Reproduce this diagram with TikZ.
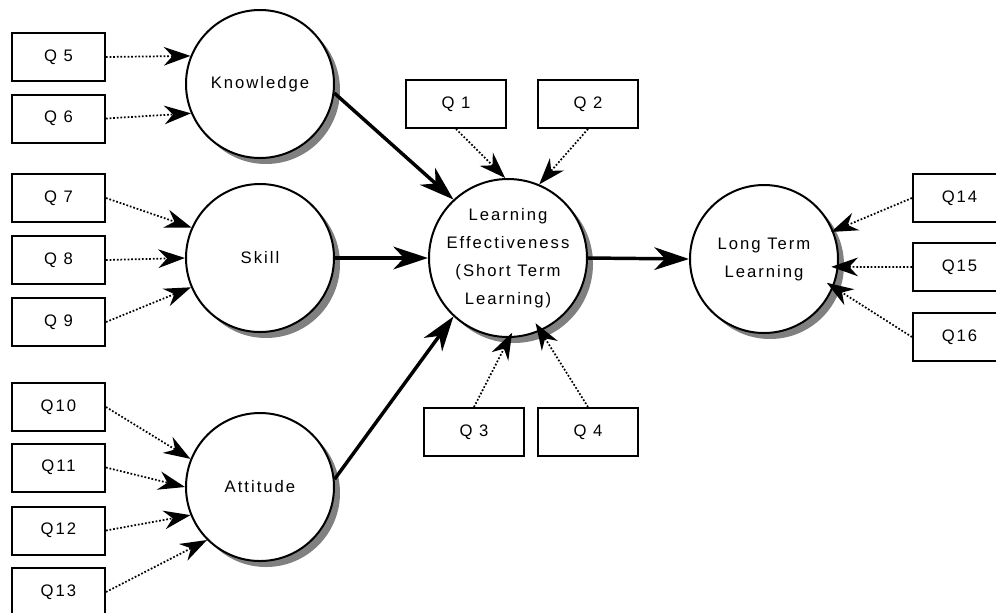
\documentclass[tikz,border=0pt]{standalone}
\usepackage{fontspec}
\setmainfont{Liberation Sans}[LetterSpace=12]
\usetikzlibrary{arrows.meta,shadows}

\tikzset{
  item/.style={draw, line width=1.5pt, minimum width=69.75pt, minimum height=36pt, inner sep=0pt},
  wide item/.style={item, minimum width=75pt},
  factor/.style={circle, draw, line width=1.5pt, fill=white, minimum size=111pt, inner sep=0pt, align=center,
    drop shadow={shadow xshift=4.5pt, shadow yshift=-4.5pt, fill=black!50, opacity=1}},
  load/.style={line width=1.3pt, dash pattern=on 1.3pt off 1.4pt, -{Stealth[length=20pt,width=14pt,inset=6.5pt]}},
  effect/.style={line width=2.6pt, -{Stealth[length=26pt,width=17pt,inset=8pt]}},
}

\begin{document}
\begin{tikzpicture}[x=0.75pt, y=-0.75pt, font=\fontsize{12.5pt}{21pt}\selectfont]
\useasboundingbox (0,0) rectangle (996,612);
% latent factors
\node [factor] (k) at (260, 84) {Knowledge};
\node [factor] (s) at (260, 258) {Skill};
\node [factor] (a) at (260, 487) {Attitude};
\node [factor] (le) at (508, 258) {Learning\\Effectiveness\\(Short Term\\Learning)};
\node [factor] (lt) at (764, 259) {Long Term\\Learning};
% questions
\node [item] (q5) at (58.5, 57) {Q 5};
\node [item] (q6) at (58.5, 118.5) {Q 6};
\node [item] (q7) at (58.5, 198) {Q 7};
\node [item] (q8) at (58.5, 260) {Q 8};
\node [item] (q9) at (58.5, 322) {Q 9};
\node [item] (q10) at (58.5, 407) {Q10};
\node [item] (q11) at (58.5, 467.5) {Q11};
\node [item] (q12) at (58.5, 530.5) {Q12};
\node [item] (q13) at (58.5, 592) {Q13};
\node [wide item] (q1) at (456, 104) {Q 1};
\node [wide item] (q2) at (588, 104) {Q 2};
\node [wide item] (q3) at (474, 432) {Q 3};
\node [wide item] (q4) at (588, 432) {Q 4};
\node [item] (q14) at (959.5, 198) {Q14};
\node [item] (q15) at (959.5, 267) {Q15};
\node [item] (q16) at (959.5, 337) {Q16};
% loadings
\draw [load] (q5.east) to (k.158);
\draw [load] (q6.east) to (k.203);
\draw [load] (q7.east) to (s.156);
\draw [load] (q8.east) to (s.180);
\draw [load] (q9.east) to (s.203);
\draw [load] (q10.east) to (a.158);
\draw [load] (q11.east) to (a.180);
\draw [load] (q12.east) to (a.202);
\draw [load] (q13.east) to (a.225);
\draw [load] (q1.south) to (le.92);
\draw [load] (q2.south) to (le.67);
\draw [load, shorten >=-4.5pt] (q3.north) to (le.271);
\draw [load, shorten >=-7pt] (q4.north) to (le.294);
\draw [load, shorten >=-2pt] (q14.west) to (lt.22);
\draw [load, shorten >=-5.5pt] (q15.west) to (lt.-6);
\draw [load, shorten >=-6pt] (q16.west) to (lt.-22);
% paths
\draw [effect] (k.-7) to (le.133);
\draw [effect] (s.east) to (le.west);
\draw [effect] (a.6) to (le.227);
\draw [effect] (le.east) to (lt.west);
\end{tikzpicture}
\end{document}
